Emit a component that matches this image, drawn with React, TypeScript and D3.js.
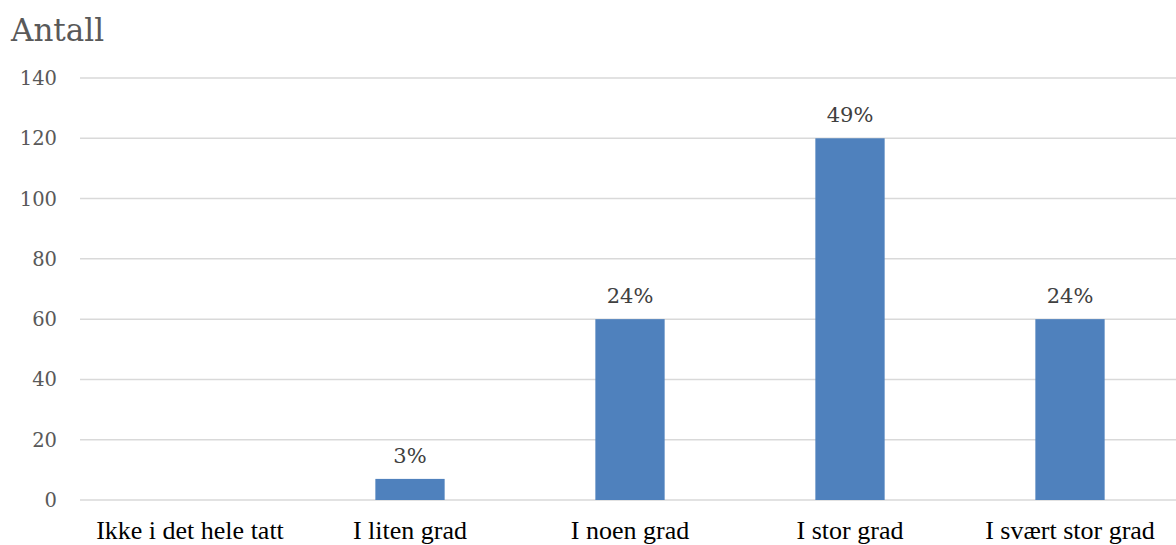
import React from "react";
import * as d3 from "d3";

const categories = ["Ikke i det hele tatt", "I liten grad", "I noen grad", "I stor grad", "I svært stor grad"];
const counts = [0, 7, 60, 120, 60];
const percentLabels = ["", "3%", "24%", "49%", "24%"];
const yTicks = [0, 20, 40, 60, 80, 100, 120, 140];

const W = 1176;
const H = 545;
const margin = { left: 80, right: -4, top: 78, bottom: 45 };

export default function App() {
  const x = d3
    .scaleBand<string>()
    .domain(categories)
    .range([margin.left, W - margin.right])
    .paddingInner(0.685)
    .paddingOuter(0.3425);
  const y = d3.scaleLinear().domain([0, 140]).range([H - margin.bottom, margin.top]);
  const tickFont = "'DejaVu Serif', Cambria, serif";
  const labelFont = "'Liberation Serif', 'Times New Roman', serif";

  return (
    <svg width={W} height={H} style={{ position: "absolute", left: 0, top: 0 }}>
      <rect width={W} height={H} fill="#fff" />
      <text x={11} y={41} fontFamily={tickFont} fontSize={31} fill="#595959">
        Antall
      </text>
      {yTicks.map((t) => (
        <g key={t}>
          <line x1={margin.left} x2={W} y1={y(t)} y2={y(t)} stroke="#d9d9d9" strokeWidth={1.5} />
          <text
            x={57}
            y={y(t)}
            dy="0.36em"
            textAnchor="end"
            fontFamily={tickFont}
            fontSize={19.5}
            fill="#595959"
          >
            {t}
          </text>
        </g>
      ))}
      {categories.map((c, i) => (
        <g key={c}>
          {counts[i] > 0 && (
            <rect
              x={x(c)}
              y={y(counts[i])}
              width={x.bandwidth()}
              height={y(0) - y(counts[i])}
              fill="#4f81bd"
            />
          )}
          {percentLabels[i] && (
            <text
              x={(x(c) as number) + x.bandwidth() / 2}
              y={y(counts[i]) - 16}
              textAnchor="middle"
              fontFamily={tickFont}
              fontSize={21}
              fill="#404040"
            >
              {percentLabels[i]}
            </text>
          )}
          <text
            x={(x(c) as number) + x.bandwidth() / 2}
            y={539}
            textAnchor="middle"
            fontFamily={labelFont}
            fontSize={26}
            fill="#000"
          >
            {c}
          </text>
        </g>
      ))}
    </svg>
  );
}
